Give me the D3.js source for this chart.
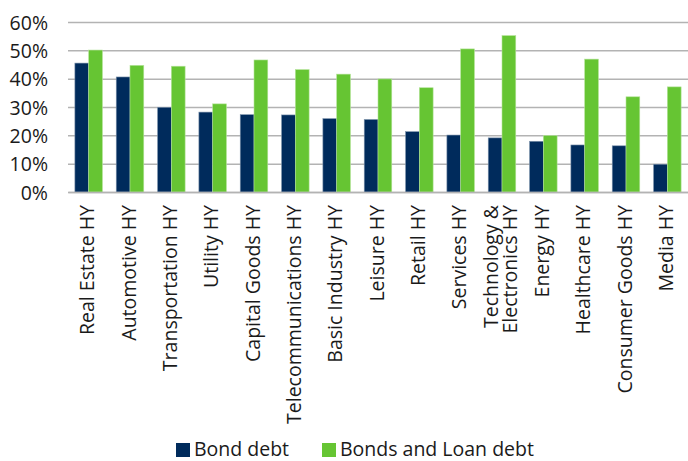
<!DOCTYPE html>
<html><head><meta charset="utf-8">
<script src="https://cdn.jsdelivr.net/npm/d3@7"></script>
<style>body{margin:0;background:#fff;} text{font-family:"Open Sans",sans-serif;}</style>
</head><body><svg id="c" width="688" height="461"></svg>
<script>
const categories = ["Real Estate HY","Automotive HY","Transportation HY","Utility HY","Capital Goods HY","Telecommunications HY","Basic Industry HY","Leisure HY","Retail HY","Services HY","Technology & Electronics HY","Energy HY","Healthcare HY","Consumer Goods HY","Media HY"];
const bondDebt = [45.5,40.6,29.9,28.2,27.3,27.2,25.9,25.6,21.3,20.1,19.1,17.9,16.6,16.3,9.8];
const bondsLoanDebt = [50.1,44.7,44.4,31.1,46.6,43.2,41.6,39.9,36.8,50.5,55.2,19.9,46.9,33.6,37.1];
const yTicks = [0,10,20,30,40,50,60];
const seriesNames = ["Bond debt","Bonds and Loan debt"];
const colors = ["#002B5C","#66C533"];

const FS = 19.5;
const svg = d3.select("#c");
const m = {l:68, r:0};
const W = 688;
const x = d3.scaleBand().domain(categories).range([m.l, W - m.r]).paddingInner(0).paddingOuter(0);
const y = d3.scaleLinear().domain([0,60]).range([192, 22]);
const xs = d3.scaleBand().domain([0,1]).range([0, x.bandwidth()]).paddingInner(0).paddingOuter(0.5);

// gridlines
const gy = svg.append("g").attr("transform", `translate(${m.l},0)`)
  .call(d3.axisLeft(y).tickValues(yTicks).tickSize(-(W - m.l)).tickFormat(d => d + "%"));
gy.select(".domain").remove();
gy.selectAll(".tick line").attr("stroke", "#b3b3b3").attr("stroke-width", 1.5);
gy.selectAll(".tick text").attr("x", -20).attr("dy", "0.36em").attr("font-size", FS).attr("fill", "#1a1a1a").attr("font-family", "Open Sans");

const data = categories.map((c,i) => ({c, v:[bondDebt[i], bondsLoanDebt[i]]}));
const g = svg.append("g");
data.forEach(d => {
  d.v.forEach((v,k) => {
    g.append("rect")
      .attr("x", x(d.c) + xs(k))
      .attr("y", y(v))
      .attr("width", xs.bandwidth())
      .attr("height", y(0) - y(v))
      .attr("fill", colors[k])
      .attr("stroke", k === 0 ? "#7f95ad" : "#b5e39a")
      .attr("stroke-width", 0.6);
  });
});

// x axis
const gx = svg.append("g").attr("transform", `translate(0,${y(0)})`)
  .call(d3.axisBottom(x).tickSize(0).tickFormat(""));
gx.select(".domain").attr("stroke", "#b3b3b3").attr("stroke-width", 1.5);
const lab = svg.append("g");
categories.forEach(c => {
  const cx = x(c) + x.bandwidth()/2;
  let lines = [c];
  if (c === "Technology & Electronics HY") lines = ["Technology &", "Electronics HY"];
  const t = lab.append("text")
    .attr("transform", `translate(${cx},205) rotate(-90)`)
    .attr("text-anchor", "end")
    .attr("font-size", FS)
    .attr("fill", "#1a1a1a");
  const n = lines.length;
  lines.forEach((ln, i) => {
    t.append("tspan").attr("x", 0).attr("dy", i === 0 ? (5.5 - (n - 1) * 9.2) : 18.4).text(ln);
  });
});

// legend
const leg = svg.append("g");
const legX = [176, 322];
seriesNames.forEach((s,k) => {
  leg.append("rect").attr("x", legX[k]).attr("y", 443).attr("width", 14).attr("height", 14).attr("fill", colors[k]);
  leg.append("text").attr("x", legX[k] + 18).attr("y", 456).attr("font-size", FS).attr("fill", "#1a1a1a").text(s);
});
</script></body></html>
